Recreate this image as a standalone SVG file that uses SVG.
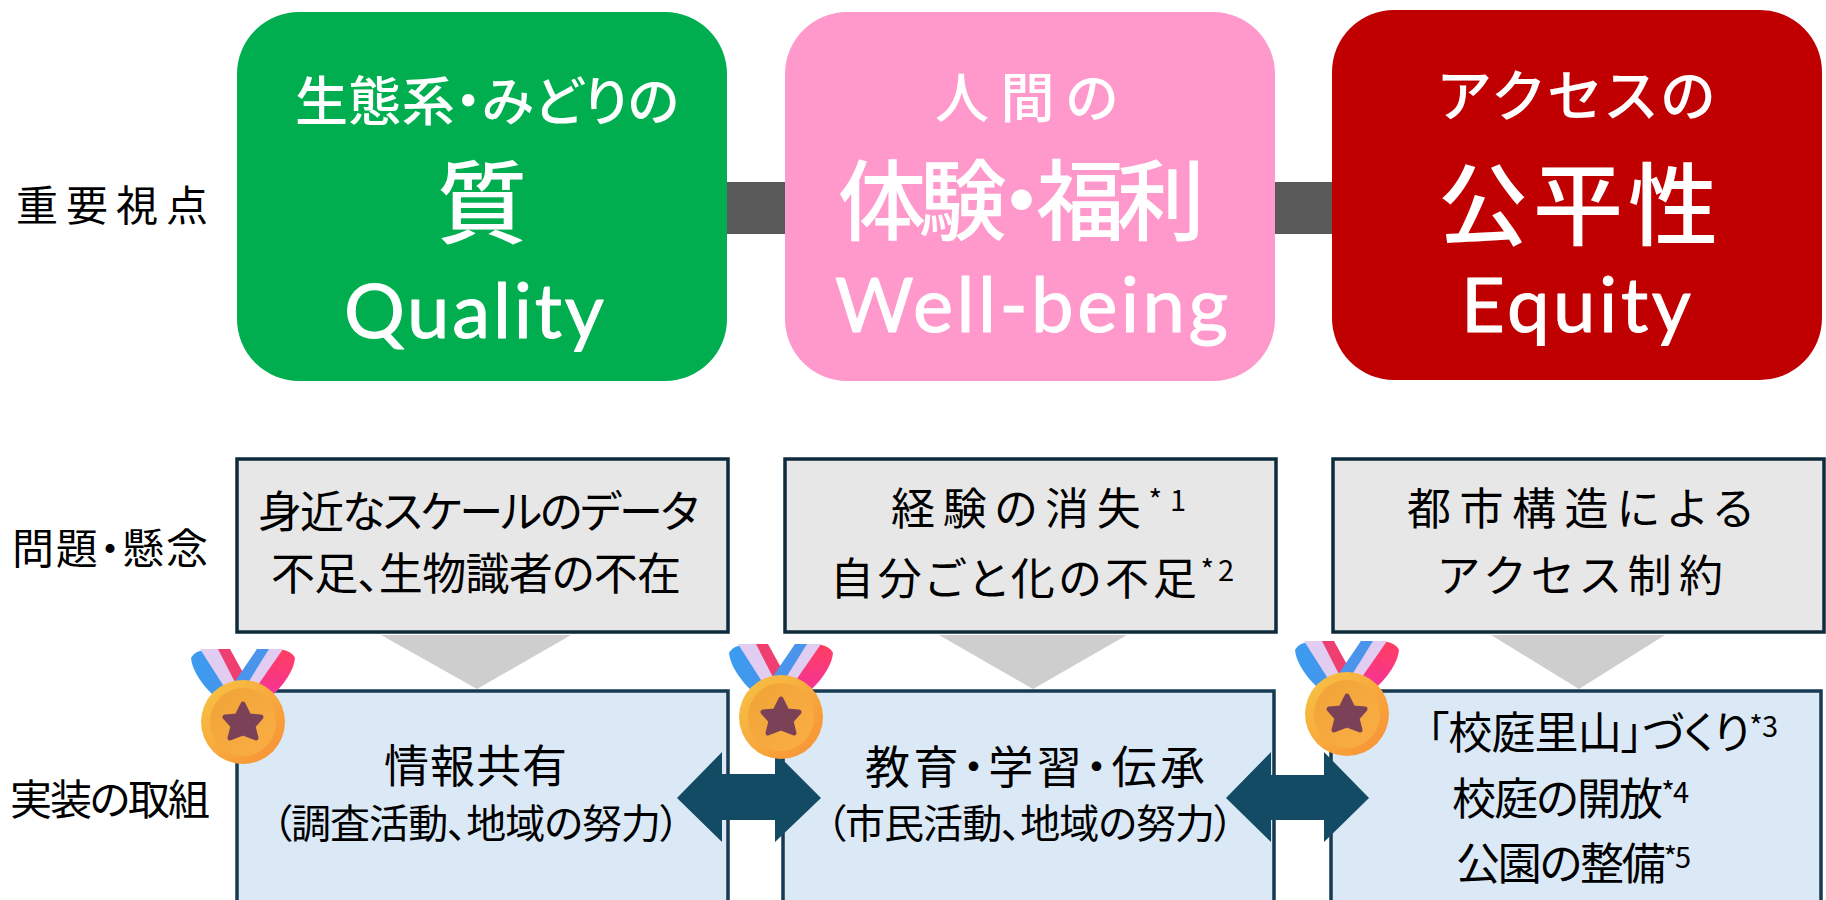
<svg xmlns="http://www.w3.org/2000/svg" width="1826" height="900" viewBox="0 0 1826 900">
<style>
text{font-family:"Noto Sans CJK JP","Noto Sans",sans-serif;fill:#000;font-feature-settings:"palt"}
.w{fill:#fff;font-weight:500}
.en{font-family:"Lato","Noto Sans",sans-serif;font-weight:400;stroke:#fff;stroke-width:1;stroke-linejoin:round}
.lab{font-size:42px}
.g{fill:#e7e7e7;stroke:#0e2b3d;stroke-width:3.5}
.b{fill:#dbe8f6;stroke:#153a52;stroke-width:3.5}
.tri{fill:#cecece}
.bar{fill:#595959}
.arr{fill:#134a64}
.t{font-size:44px}
.t2{font-size:40px}
.sup{font-size:29px}
</style>
<defs>
<linearGradient id="rb" x1="0" y1="0" x2="1" y2="0"><stop offset="0" stop-color="#3b9df0"/><stop offset="1" stop-color="#4a8fe8"/></linearGradient>
<linearGradient id="rr" x1="0" y1="0" x2="0" y2="1"><stop offset="0" stop-color="#ff3f5f"/><stop offset="1" stop-color="#f22fa8"/></linearGradient>
<linearGradient id="mo" x1="0" y1="0" x2="1" y2="1"><stop offset="0" stop-color="#f6c544"/><stop offset="1" stop-color="#f88f36"/></linearGradient>
<linearGradient id="mi" x1="0" y1="0" x2="1" y2="1"><stop offset="0" stop-color="#f0a336"/><stop offset="1" stop-color="#fbae45"/></linearGradient>
<g id="medal">
<path d="M-52-64C-47-73-37-73-31-68L2-35-16-15C-30-25-50-45-52-64Z" fill="url(#rb)"/>
<path d="M-43-73H-24L-3-36-13-26Z" fill="#e2cdf2"/>
<path d="M-25-73H-13L9-33 0-24Z" fill="#ee3f70"/>
<path d="M52-64C50-45 30-25 14-14L-5-33 17-68C30-76 48-73 52-64Z" fill="url(#rr)"/>
<path d="M14-73H40L6-24-8-34Z" fill="#e2cdf2"/>
<path d="M14-73H26L-7-20-14-32Z" fill="#4a94ec"/>
<ellipse cx="0" cy="0" rx="42" ry="42" fill="url(#mo)"/>
<ellipse cx="0" cy="0" rx="33" ry="34" fill="url(#mi)"/>
<path d="M0-18 6-6 18-5 10 4 13 16 0 11-13 16-10 4-18-5-6-6Z" fill="#7b4257" stroke="#7b4257" stroke-width="5" stroke-linejoin="round"/>
</g>
</defs>
<g id="connectors">
<rect class="bar" x="727" y="182" width="58" height="52"/>
<rect class="bar" x="1275" y="182" width="57" height="52"/>
<path class="tri" d="M381 635H571L477 689Z"/>
<path class="tri" d="M939 635H1127L1033 689Z"/>
<path class="tri" d="M1491 635H1665L1579 689Z"/>
</g>
<g id="label-perspective"><text class="lab" x="16" y="221" textLength="192">重要視点</text></g>
<g id="label-issue"><text class="lab" x="12" y="564" textLength="196">問題・懸念</text></g>
<g id="label-impl"><text class="lab" x="10" y="815" textLength="200">実装の取組</text></g>
<g id="node-quality">
<rect x="237" y="12" width="490" height="369" rx="62" fill="#00ae50"/>
<text class="w" x="295" y="121" font-size="53" textLength="384">生態系・みどりの</text>
<text class="w" x="482" y="236" font-size="90" text-anchor="middle">質</text>
<text class="w en" x="344" y="338" font-size="76" textLength="260">Quality</text>
</g>
<g id="node-wellbeing">
<rect x="785" y="12" width="490" height="369" rx="62" fill="#ff99cb"/>
<text class="w" x="935" y="118" font-size="54" textLength="183">人間の</text>
<text class="w" x="838" y="233" font-size="88" textLength="367">体験・福利</text>
<text class="w en" x="835" y="332" font-size="76" textLength="393">Well-being</text>
</g>
<g id="node-equity">
<rect x="1332" y="10" width="490" height="370" rx="62" fill="#c00000"/>
<text class="w" x="1438" y="116" font-size="56" textLength="277">アクセスの</text>
<text class="w" x="1438" y="238" font-size="90" textLength="280">公平性</text>
<text class="w en" x="1461" y="332" font-size="76" textLength="230">Equity</text>
</g>
<g id="issue-1">
<rect class="g" x="237" y="459" width="491" height="173"/>
<text class="t" x="258" y="528" textLength="441">身近なスケールのデータ</text>
<text class="t" x="271" y="590" textLength="410">不足、生物識者の不在</text>
</g>
<g id="issue-2">
<rect class="g" x="785" y="459" width="491" height="173"/>
<text class="t" x="891" y="525" textLength="295">経験の消失<tspan class="sup" dy="-14">*1</tspan></text>
<text class="t" x="830" y="595" textLength="404">自分ごと化の不足<tspan class="sup" dy="-14">*2</tspan></text>
</g>
<g id="issue-3">
<rect class="g" x="1333" y="459" width="491" height="173"/>
<text class="t" x="1407" y="525" textLength="346">都市構造による</text>
<text class="t" x="1438" y="592" textLength="285">アクセス制約</text>
</g>
<g id="action-1">
<rect class="b" x="237" y="691" width="491" height="230"/>
<text x="384" y="783" font-size="45" textLength="183">情報共有</text>
<text class="t2" x="272" y="838" textLength="408">（調査活動、地域の努力）</text>
</g>
<g id="action-2">
<rect class="b" x="783" y="691" width="491" height="230"/>
<text x="865" y="784" font-size="45" textLength="340">教育・学習・伝承</text>
<text class="t2" x="826" y="838" textLength="408">（市民活動、地域の努力）</text>
</g>
<g id="action-3">
<rect class="b" x="1331" y="691" width="490" height="230"/>
<text class="t" x="1427" y="749" textLength="351">「校庭里山」づくり<tspan class="sup" dy="-12">*3</tspan></text>
<text class="t" x="1452" y="815" textLength="237">校庭の開放<tspan class="sup" dy="-12">*4</tspan></text>
<text class="t" x="1456" y="880" textLength="235">公園の整備<tspan class="sup" dy="-12">*5</tspan></text>
</g>
<g id="arrows">
<path class="arr" d="M677 798 722 752V774H775V752L821 798 775 842V820H722V842Z"/>
<path class="arr" d="M1226 798 1271 752V775H1324V752L1369 798 1324 842V820H1271V842Z"/>
</g>
<g id="medal-1"><use href="#medal" x="243" y="722"/></g>
<g id="medal-2"><use href="#medal" x="781" y="717"/></g>
<g id="medal-3"><use href="#medal" x="1347" y="714"/></g>
</svg>
